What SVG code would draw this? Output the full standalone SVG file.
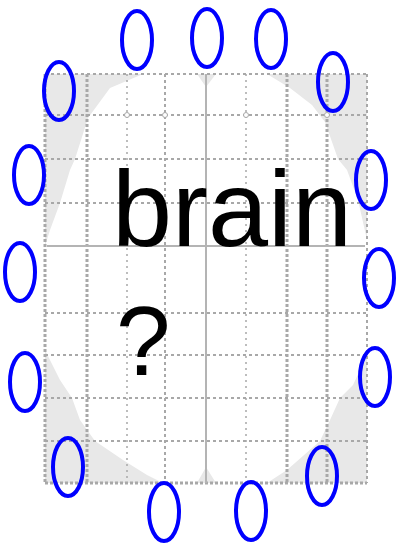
<svg xmlns="http://www.w3.org/2000/svg" width="397" height="545" viewBox="0 0 397 545">
<style>
.bg{fill:#e8e8e8;}
.blob{fill:#ffffff;}
.gh{stroke:#a8a8a8;stroke-width:3;stroke-dasharray:3 2;fill:none;}
.gm{stroke:#a8a8a8;stroke-width:2;stroke-dasharray:3 3;fill:none;}
.gl{stroke:#a8a8a8;stroke-width:1.5;stroke-dasharray:2 4;fill:none;}
.axis{stroke:#b4b4b4;stroke-width:2;fill:none;}
.mk{stroke:#a8a8a8;stroke-width:1;fill:#fff;}
.node{fill:none;stroke:#0000ff;stroke-width:4;}
.lbl{font-family:"Liberation Sans",Arial,sans-serif;font-size:104px;fill:#000;}
</style>
<g id="plot">
<rect class="bg" x="45" y="74" width="322" height="409"/>
<path class="blob" d="M197,74 L206,87 L216,74 L267,74 L290,88 L312,105 L325,122 L338,159 L347,170 L358,200 L367,240 L367,355 L353,385 L340,398 L330,420 L320,441 L287,470 L267,483 L216,483 L206,467 L197,483 L163,483 L147,475 L123,460 L95,441 L80,420 L72,398 L60,380 L45,350 L45,246 L50,230 L60,203 L70,170 L75,159 L88,118 L110,88 L143,74 Z"/>
<g id="grid">
<line class="gm" x1="45" y1="74" x2="367" y2="74"/>
<line class="gm" x1="45" y1="115" x2="367" y2="115"/>
<line class="gm" x1="45" y1="159" x2="367" y2="159"/>
<line class="gm" x1="45" y1="203" x2="367" y2="203"/>
<line class="gm" x1="45" y1="313" x2="367" y2="313"/>
<line class="gm" x1="45" y1="355" x2="367" y2="355"/>
<line class="gm" x1="45" y1="398" x2="367" y2="398"/>
<line class="gm" x1="45" y1="441" x2="367" y2="441"/>
<line class="gh" x1="45" y1="483" x2="367" y2="483"/>
<line class="gh" x1="45" y1="74" x2="45" y2="483"/>
<line class="gh" x1="87" y1="74" x2="87" y2="483"/>
<line class="gl" x1="127" y1="74" x2="127" y2="483"/>
<line class="gm" x1="165" y1="74" x2="165" y2="483"/>
<line class="gl" x1="246" y1="74" x2="246" y2="483"/>
<line class="gh" x1="287" y1="74" x2="287" y2="483"/>
<line class="gh" x1="327" y1="74" x2="327" y2="483"/>
<line class="gm" x1="367" y1="74" x2="367" y2="483"/>
<line class="axis" x1="206" y1="74" x2="206" y2="483"/>
<line class="axis" x1="47" y1="246" x2="365" y2="246"/>
<circle class="mk" cx="127" cy="115" r="2.5"/>
<circle class="mk" cx="165" cy="115" r="2.5"/>
<circle class="mk" cx="246" cy="115" r="2.5"/>
<circle class="mk" cx="327" cy="115" r="2.5"/>
</g>
</g>
<g id="connectors"></g>
<g id="label-brain"><text class="lbl" x="112" y="246" style="font-size:108px">brain</text></g>
<g id="label-q"><text class="lbl" x="116" y="375" style="font-size:98px">?</text></g>
<g id="n1"><ellipse class="node" cx="137" cy="40" rx="15" ry="29"/></g>
<g id="n2"><ellipse class="node" cx="207" cy="38" rx="15" ry="29"/></g>
<g id="n3"><ellipse class="node" cx="271" cy="39" rx="15" ry="29"/></g>
<g id="n4"><ellipse class="node" cx="333" cy="82" rx="15" ry="29"/></g>
<g id="n5"><ellipse class="node" cx="371" cy="180" rx="15" ry="29"/></g>
<g id="n6"><ellipse class="node" cx="379" cy="278" rx="15" ry="29"/></g>
<g id="n7"><ellipse class="node" cx="375" cy="377" rx="15" ry="29"/></g>
<g id="n8"><ellipse class="node" cx="322" cy="476" rx="15" ry="29"/></g>
<g id="n9"><ellipse class="node" cx="251" cy="511" rx="15" ry="29"/></g>
<g id="n10"><ellipse class="node" cx="164" cy="512" rx="15" ry="29"/></g>
<g id="n11"><ellipse class="node" cx="68" cy="467" rx="15" ry="29"/></g>
<g id="n12"><ellipse class="node" cx="25" cy="382" rx="15" ry="29"/></g>
<g id="n13"><ellipse class="node" cx="20" cy="272" rx="15" ry="29"/></g>
<g id="n14"><ellipse class="node" cx="29" cy="175" rx="15" ry="29"/></g>
<g id="n15"><ellipse class="node" cx="59" cy="91" rx="15" ry="29"/></g>
</svg>
